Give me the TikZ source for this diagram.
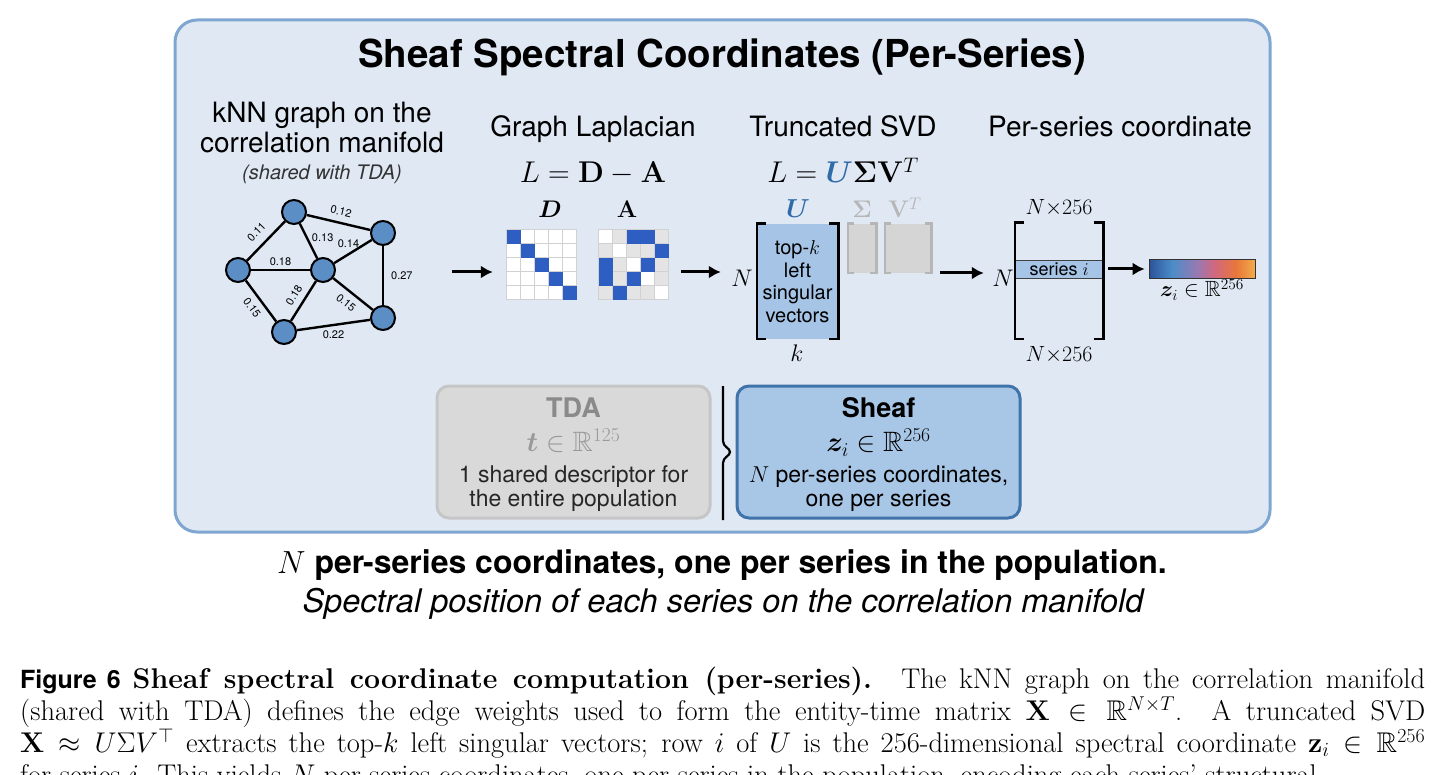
\RequirePackage{fix-cm}
\documentclass[tikz,border=0pt]{standalone}
\usepackage{amsmath,amssymb}
\usepackage{bm}
\usepackage[no-math]{fontspec}
\setsansfont{TeX Gyre Heros}
\usetikzlibrary{arrows.meta, calc}

\definecolor{panelfill}{HTML}{DFE8F3}
\definecolor{panelline}{HTML}{7EA6D0}
\definecolor{vertexblue}{HTML}{5C8EC6}
\definecolor{cellblue}{HTML}{2F5EC2}
\definecolor{cellgray}{HTML}{E4E4E4}
\definecolor{ublue}{HTML}{A5C4E6}
\definecolor{utext}{HTML}{2F6BA8}
\definecolor{ghost}{HTML}{D5D5D5}
\definecolor{ghostline}{HTML}{B6B6B6}
\definecolor{tdafill}{HTML}{D9D9D9}
\definecolor{tdaline}{HTML}{C6C6C6}
\definecolor{tdahead}{HTML}{8A8A8A}
\definecolor{sheaffill}{HTML}{A8C6E6}
\definecolor{sheafline}{HTML}{3F73AA}
\definecolor{zA}{HTML}{2B539A}
\definecolor{zB}{HTML}{4C8DC9}
\definecolor{zC}{HTML}{9A78B0}
\definecolor{zD}{HTML}{D2677F}
\definecolor{zE}{HTML}{E8773A}
\definecolor{zF}{HTML}{F3AB4C}
\pgfdeclarehorizontalshading{zgrad}{100bp}{color(0bp)=(zA); color(25bp)=(zA); color(36bp)=(zB); color(48bp)=(zC); color(56bp)=(zD); color(66bp)=(zE); color(75bp)=(zF); color(100bp)=(zF)}

\begin{document}
\begin{tikzpicture}[x=1pt, y=-1pt,
    vertex/.style={circle, draw, line width=2pt, fill=vertexblue, minimum size=24pt, inner sep=0pt},
    link/.style={line width=2.4pt},
    weight/.style={font=\sffamily\fontsize{11}{12}\selectfont, inner sep=1pt},
    heading/.style={anchor=base, font=\sffamily\fontsize{28}{31}\selectfont},
    mathlabel/.style={anchor=base, font=\fontsize{24}{28}\selectfont},
    directed/.style={-{Latex[length=12pt, width=13pt]}, line width=3pt},
    bracket/.style={line width=2.6pt},
    cell/.style={draw=black!18, line width=0.8pt},
    card/.style={rounded corners=12pt, line width=3pt, minimum height=132pt, align=center, font=\sffamily\fontsize{23}{24}\selectfont}
]
    \fill[white] (0,0) rectangle (1445,775);
    \clip (0,0) rectangle (1445,775);

    % Panel
    \draw[panelline, fill=panelfill, line width=3pt, rounded corners=22pt] (175,20) rectangle (1270,532);
    \node[font=\sffamily\bfseries\fontsize{38.5}{44}\selectfont] (title) at (722,57) {Sheaf Spectral Coordinates (Per-Series)};

    % kNN graph
    \node[heading] (knnA) at (322,123) {kNN graph on the};
    \node[heading] (knnB) at (322,153) {correlation manifold};
    \node[anchor=base, font=\sffamily\itshape\fontsize{20}{24}\selectfont, text=black!80] (shared) at (322,180) {(shared with TDA)};

    \node[vertex] (T) at (294,212) {};
    \node[vertex] (R) at (383,233) {};
    \node[vertex] (L) at (238,270) {};
    \node[vertex] (C) at (323,270) {};
    \node[vertex] (BL) at (284,332) {};
    \node[vertex] (BR) at (383,318) {};

    \draw[link] (T) -- node[weight, sloped, above=5pt] {0.12} (R);
    \draw[link] (L) -- node[weight, sloped, above=7pt] {0.11} (T);
    \draw[link] (T) -- node[weight, right=3pt, pos=0.4] {0.13} (C);
    \draw[link] (C) -- node[weight, above=4pt, pos=0.38] {0.14} (R);
    \draw[link] (L) -- node[weight, above=2pt] {0.18} (C);
    \draw[link] (L) -- node[weight, sloped, below=5pt] {0.15} (BL);
    \draw[link] (C) -- node[weight, sloped, above=5pt] {0.18} (BL);
    \draw[link] (C) -- node[weight, sloped, below=5pt] {0.15} (BR);
    \draw[link] (R) -- node[weight, right=6pt] {0.27} (BR);
    \draw[link] (BL) -- node[weight, below=4pt] {0.22} (BR);

    % Graph Laplacian
    \node[heading] (lapT) at (593,137) {Graph Laplacian};
    \node[anchor=base, font=\fontsize{30}{34}\selectfont] (lapEq) at (593,183) {$L=\mathbf{D}-\mathbf{A}$};
    \node[inner sep=0pt, minimum size=70pt] (Dmat) at (542,265) {};
    \node[inner sep=0pt, minimum size=70pt] (Amat) at (634,265) {};
    \node[mathlabel] (Dlab) at (550,218) {$\bm{D}$};
    \node[mathlabel] (Alab) at (627,218) {$\mathbf{A}$};
    \foreach \r in {0,...,4}
        \foreach \c in {0,...,4} {
            \draw[cell, fill=white] ($(Dmat.north west)+(14*\c,14*\r)$) rectangle ++(14,14);
            \draw[cell, fill=cellgray] ($(Amat.north west)+(14*\c,14*\r)$) rectangle ++(14,14);
        }
    \foreach \c in {0,...,4} {
        \fill[cellblue] ($(Dmat.north west)+(14*\c,14*\c)$) rectangle ++(14,14);
        \draw[cell, fill=white] ($(Amat.north west)+(14*\c,14*\c)$) rectangle ++(14,14);
    }
    \foreach \r/\c in {0/2, 0/3, 1/4, 2/0, 2/3, 3/0, 3/2, 4/1}
        \fill[cellblue] ($(Amat.north west)+(14*\c,14*\r)$) rectangle ++(14,14);

    % Truncated SVD
    \node[heading] (svdT) at (843,137) {Truncated SVD};
    \node[anchor=base, font=\fontsize{30}{34}\selectfont] (svdEq) at (843,183) {$L={\color{utext}\bm{U}}\bm{\Sigma}\mathbf{V}^{T}$};
    \node[fill=ublue, inner sep=0pt, minimum width=81pt, minimum height=115pt, align=center,
          font=\sffamily\fontsize{20}{22.5}\selectfont] (Umat) at (797.5,281.5) {top-$k$\\left\\singular\\vectors};
    \draw[bracket] ([xshift=9pt]Umat.north west) -- (Umat.north west) -- (Umat.south west) -- ([xshift=9pt]Umat.south west);
    \draw[bracket] ([xshift=-9pt]Umat.north east) -- (Umat.north east) -- (Umat.south east) -- ([xshift=-9pt]Umat.south east);
    \node[mathlabel, font=\fontsize{26}{30}\selectfont, text=utext] (Ulab) at (798,218) {$\bm{U}$};
    \node[mathlabel] (uN) at (742,287) {$N$};
    \node[mathlabel] (uk) at (797,362) {$k$};

    \node[fill=ghost, inner sep=0pt, minimum width=28pt, minimum height=49pt] (Smat) at (862,248.5) {};
    \node[fill=ghost, inner sep=0pt, minimum width=46pt, minimum height=49pt] (Vmat) at (908,248.5) {};
    \foreach \m in {Smat, Vmat} {
        \draw[bracket, ghostline] ([xshift=6pt]\m.north west) -- (\m.north west) -- (\m.south west) -- ([xshift=6pt]\m.south west);
        \draw[bracket, ghostline] ([xshift=-6pt]\m.north east) -- (\m.north east) -- (\m.south east) -- ([xshift=-6pt]\m.south east);
    }
    \node[mathlabel, text=ghostline] (Slab) at (862,218) {$\bm{\Sigma}$};
    \node[mathlabel, text=ghostline] (Vlab) at (905,218) {$\mathbf{V}^{T}$};

    % Per-series coordinate
    \node[heading] (perT) at (1120,137) {Per-series coordinate};
    \node[inner sep=0pt, minimum width=88pt, minimum height=116pt] (Pmat) at (1059,281) {};
    \node[fill=ublue, draw=black!75, line width=0.8pt, inner sep=0pt, minimum width=88pt, minimum height=18pt,
          font=\sffamily\fontsize{18}{20}\selectfont] (series) at (1059,269) {series $i$};
    \draw[bracket] ([xshift=9pt]Pmat.north west) -- (Pmat.north west) -- (Pmat.south west) -- ([xshift=9pt]Pmat.south west);
    \draw[bracket] ([xshift=-9pt]Pmat.north east) -- (Pmat.north east) -- (Pmat.south east) -- ([xshift=-9pt]Pmat.south east);
    \node[mathlabel, font=\fontsize{22}{26}\selectfont] (Ptop) at (1059,215) {$N{\times}256$};
    \node[mathlabel, font=\fontsize{22}{26}\selectfont] (Pbot) at (1059,362) {$N{\times}256$};
    \node[mathlabel] (pN) at (1003,287) {$N$};
    \node[draw=black!80, line width=0.8pt, shading=zgrad, inner sep=0pt, minimum width=106pt, minimum height=19pt] (zbar) at (1202,269) {};
    \node[mathlabel, font=\fontsize{22}{26}\selectfont] (zlab) at (1202,297) {$\bm{z}_i\in\mathbb{R}^{256}$};

    % Arrows
    \coordinate (knnOut) at (452,272);
    \coordinate (lane) at (0,273);
    \draw[directed, shorten >=14pt] (knnOut) -- (knnOut -| Dmat.west);
    \draw[directed, shorten <=12pt, shorten >=7pt] (Amat.east |- knnOut) -- (uN.west |- knnOut);
    \draw[directed, shorten <=9pt, shorten >=5pt] (Vmat.east |- lane) -- (pN.west |- lane);
    \draw[directed, shorten <=5pt, shorten >=4pt] (series) -- (zbar);

    % TDA vs Sheaf
    \node[card, fill=tdafill, draw=tdaline, minimum width=273pt, text=black!85] (tda) at (573.5,452)
        {\rule{0pt}{26pt}{\bfseries\fontsize{27}{28}\selectfont\color{tdahead}TDA}\\[10pt]
         {\fontsize{28}{30}\selectfont\color{black!40}$\bm{t}\in\mathbb{R}^{125}$}\\[7pt]
         1 shared descriptor for\\the entire population};
    \node[card, fill=sheaffill, draw=sheafline, minimum width=283pt, text=black] (sheaf) at (878.5,452)
        {\rule{0pt}{26pt}{\bfseries\fontsize{27}{28}\selectfont Sheaf}\\[10pt]
         {\fontsize{28}{30}\selectfont$\bm{z}_i\in\mathbb{R}^{256}$}\\[7pt]
         $N$ per-series coordinates,\\one per series};
    \draw[line width=2.2pt] (723,386) -- (723,441) .. controls (723,447) and (730,448) .. (730,452)
        .. controls (730,456) and (723,457) .. (723,463) -- (723,520);

    % Summary
    \node[anchor=base, font=\sffamily\bfseries\fontsize{32}{36}\selectfont] (summary) at (722,573)
        {$N$ per-series coordinates, one per series in the population.};
    \node[anchor=base, font=\sffamily\itshape\fontsize{32.5}{36}\selectfont] (subline) at (723,612)
        {Spectral position of each series on the correlation manifold};

    % Caption
    \node[anchor=north west, inner sep=0pt, text width=1405pt, align=justify, font=\fontsize{28.5}{32}\selectfont] (caption) at (20,667)
        {\parfillskip=0pt {\sffamily\bfseries\fontsize{25}{32}\selectfont Figure 6}\hspace{12pt}\textbf{Sheaf spectral coordinate computation (per-series).}\hspace{6pt} The kNN graph on the correlation manifold\linebreak
         (shared with TDA) defines the edge weights used to form the entity-time matrix $\mathbf{X}\in\mathbb{R}^{N\times T}$. A truncated SVD\linebreak
         $\mathbf{X}\approx U\Sigma V^{\top}$ extracts the top-$k$ left singular vectors; row $i$ of $U$ is the 256-dimensional spectral coordinate $\mathbf{z}_i\in\mathbb{R}^{256}$\linebreak
         for series $i$. This yields $N$ per-series coordinates, one per series in the population, encoding each series' structural};
\end{tikzpicture}
\end{document}
